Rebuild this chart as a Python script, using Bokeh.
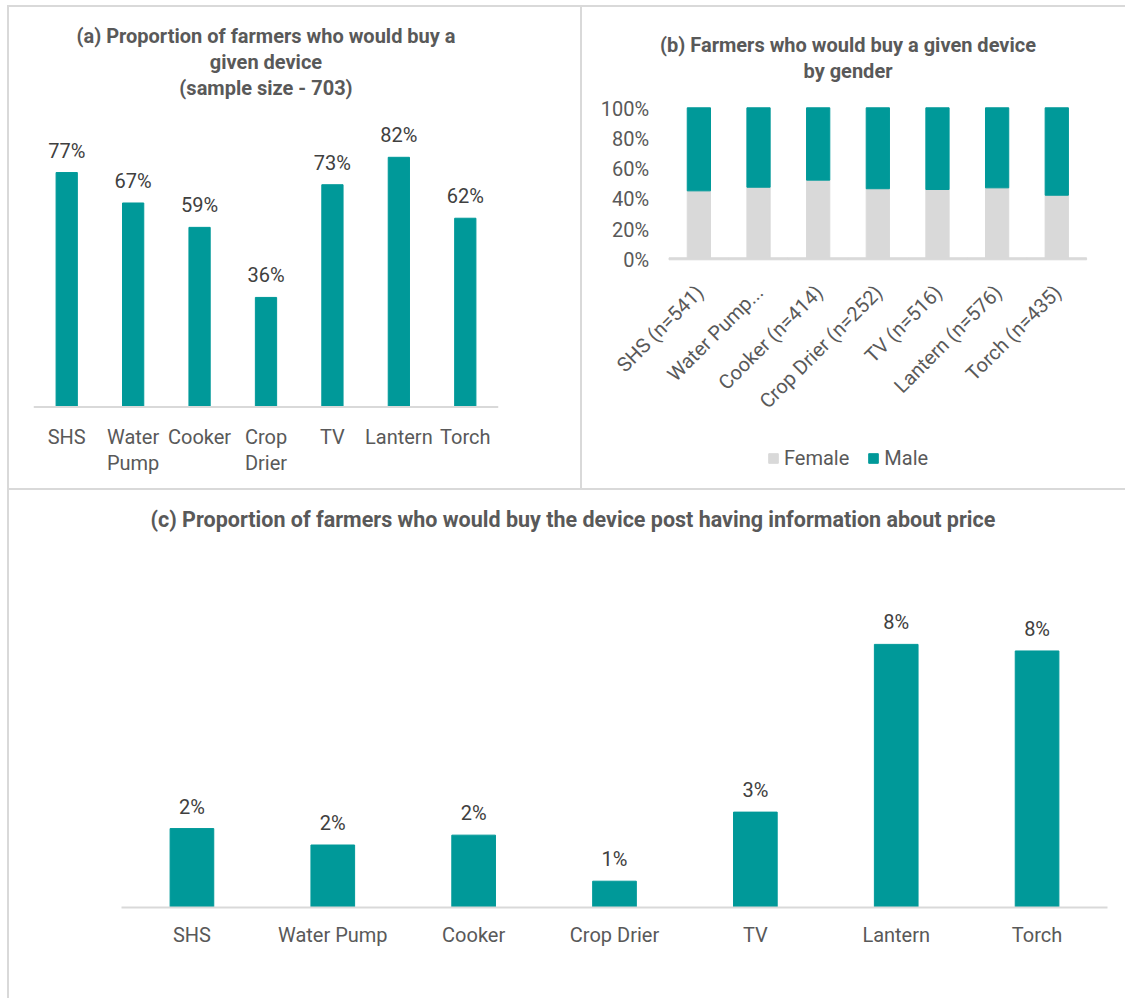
import math
from bokeh.plotting import figure
from bokeh.layouts import row, column
from bokeh.models import (ColumnDataSource, Legend, LegendItem, Span, Spacer, Title,
                          FactorRange)
from bokeh.core.properties import value
from bokeh.embed import file_html
from bokeh.resources import INLINE

# ---------------- data ----------------
devices_a = ["SHS", "Water\nPump", "Cooker", "Crop\nDrier", "TV", "Lantern", "Torch"]
share_a = [0.77, 0.67, 0.59, 0.36, 0.73, 0.82, 0.62]

devices_b = ["SHS (n=541)", "Water Pump...", "Cooker (n=414)", "Crop Drier (n=252)",
             "TV (n=516)", "Lantern (n=576)", "Torch (n=435)"]
female_b = [0.450, 0.474, 0.521, 0.464, 0.459, 0.470, 0.421]
male_b = [1 - f for f in female_b]
ticks_b = [0, 0.2, 0.4, 0.6, 0.8, 1.0]
tick_labels_b = ["0%", "20%", "40%", "60%", "80%", "100%"]

devices_c = ["SHS", "Water Pump", "Cooker", "Crop Drier", "TV", "Lantern", "Torch"]
share_c = [0.024, 0.019, 0.022, 0.008, 0.029, 0.080, 0.078]

title_a = ["(a) Proportion of farmers who would buy a", "given device", "(sample size - 703)"]
title_b = ["(b) Farmers who would buy a given device", "by gender"]
title_c = "(c) Proportion of farmers who would buy the device post having information about price"

# ---------------- style ----------------
TEAL = "#009999"
GREY = "#d9d9d9"
TXT = "#595959"
VAL = "#404040"
FONT = "Roboto"


def add_titles(p, lines):
    # three stacked, centred title rows; bottom row added first
    rows = list(lines) + ["."] * (3 - len(lines))
    for t in reversed(rows):
        p.add_layout(Title(text=t, align="center", text_font=FONT,
                           text_font_size="20px", text_font_style="bold",
                           text_color="white" if t == "." else TXT,
                           standoff=0), "above")


def make_fig(x_range, y_range, w, h, left, right, top, bottom, xloc, yloc):
    p = figure(x_range=x_range, y_range=y_range, width=w, height=h,
               output_backend="svg", toolbar_location=None,
               x_axis_location=xloc, y_axis_location=yloc,
               min_border_left=left, min_border_right=right,
               min_border_top=top, min_border_bottom=bottom)
    p.outline_line_color = None
    p.xgrid.grid_line_color = None
    p.ygrid.grid_line_color = None
    p.background_fill_color = "white"
    p.border_fill_color = "white"
    p.styles = {"background-color": "white"}
    return p


# ---------------- panel (a) ----------------
pa = make_fig(devices_a, (-0.2345, 1.0098), 571, 481, 24, 82, 92, 10, None, None)
add_titles(pa, title_a)
src_a = ColumnDataSource(dict(x=devices_a, y=share_a, base=[0] * len(share_a),
                              lab=[f"{v:.0%}" for v in share_a]))
pa.vbar(x="x", top="y", width=0.32, source=src_a, color=TEAL)
pa.add_layout(Span(location=0, dimension="width", line_color=GREY, line_width=2))
pa.text(x="x", y="y", text="lab", source=src_a, text_align="center",
        text_baseline="middle", y_offset=-22, text_font=value(FONT),
        text_font_size="20px", text_color=VAL)
pa.text(x="x", y="base", text="x", source=src_a, text_align="center",
        text_baseline="top", y_offset=18, text_line_height=1.1,
        text_font=value(FONT), text_font_size="20px", text_color=TXT)

# ---------------- panel (b) ----------------
# a blank leading factor leaves room inside the frame for the tick and rotated labels
xr_b = FactorRange(factors=[" "] + devices_b, range_padding=0.3,
                   range_padding_units="absolute")
pb = make_fig(xr_b, (-1.455, 1.055), 543, 481, 9, 21, 92, 10, None, None)
add_titles(pb, title_b)
src_b = ColumnDataSource(dict(x=devices_b, Female=female_b, Male=male_b,
                              base=[0] * len(female_b)))
rs = pb.vbar_stack(["Female", "Male"], x="x", width=0.39, source=src_b,
                   color=[GREY, TEAL])
pb.rect(x="x", y="base", width=1.0, height=2, height_units="screen",
        source=src_b, color=GREY)
pb.text(x="x", y="base", text="x", source=src_b, angle=math.pi / 4,
        text_align="right", text_baseline="middle", x_offset=1, y_offset=30,
        text_font=value(FONT), text_font_size="20px", text_color=TXT)
src_bt = ColumnDataSource(dict(x=[" "] * len(ticks_b), y=ticks_b, lab=tick_labels_b))
pb.text(x="x", y="y", text="lab", source=src_bt, text_align="right",
        text_baseline="middle", x_offset=10, y_offset=1, text_font=value(FONT),
        text_font_size="20px", text_color=TXT)
legend = Legend(items=[LegendItem(label="Female", renderers=[rs[0]]),
                       LegendItem(label="Male", renderers=[rs[1]])],
                orientation="horizontal", location=(176, 8),
                label_text_font=FONT, label_text_font_size="20px",
                label_text_color=TXT, glyph_width=12, glyph_height=12,
                border_line_color=None, background_fill_alpha=0,
                spacing=18, label_standoff=5, padding=4, margin=0)
pb.add_layout(legend, "center")

# ---------------- panel (c) ----------------
pc = make_fig(devices_c, (0, 0.09), 1116, 508, 112, 18, 121, 91, "below", None)
pc.title.text = title_c + "\n \n "
pc.title.align = "left"
pc.title.offset = 29
pc.title.text_font = FONT
pc.title.text_font_size = "21.5px"
pc.title.text_font_style = "bold"
pc.title.text_color = TXT
try:
    pc.title.text_line_height = 1.5
except Exception:
    pass
src_c = ColumnDataSource(dict(x=devices_c, y=share_c,
                              lab=[f"{v:.0%}" for v in share_c]))
pc.vbar(x="x", top="y", width=0.31, source=src_c, color=TEAL)
pc.text(x="x", y="y", text="lab", source=src_c, text_align="center",
        text_baseline="middle", y_offset=-22, text_font=value(FONT),
        text_font_size="20px", text_color=VAL)
pc.xaxis.axis_line_color = GREY
pc.xaxis.axis_line_width = 2
pc.xaxis.major_tick_line_color = None
pc.xaxis.minor_tick_line_color = None
pc.xaxis.major_label_text_font = FONT
pc.xaxis.major_label_text_font_size = "20px"
pc.xaxis.major_label_text_color = TXT
pc.xaxis.major_label_standoff = 9

# ---------------- layout with thin grey panel borders ----------------
core = column(row(pa, pb, spacing=2), pc, spacing=2)
framed = column(Spacer(width=1118, height=2),
                row(Spacer(width=2, height=991), core, spacing=0), spacing=0)
framed.styles = {"background-color": GREY}
page = row(Spacer(width=7, height=998),
           column(Spacer(width=1118, height=5), framed, spacing=0), spacing=0)

open("out.html", "w").write(file_html(page, INLINE))
